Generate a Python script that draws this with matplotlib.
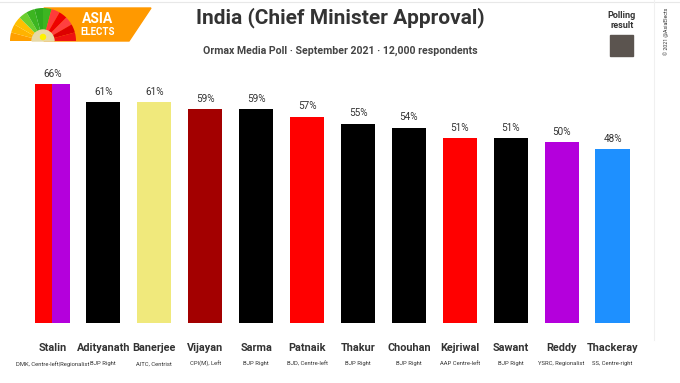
import matplotlib
matplotlib.use("Agg")
import matplotlib.pyplot as plt
from matplotlib.patches import Wedge, Polygon, Rectangle, Circle
from matplotlib.lines import Line2D
import numpy as np

# data
names = ["Stalin", "Adityanath", "Banerjee", "Vijayan", "Sarma", "Patnaik",
         "Thakur", "Chouhan", "Kejriwal", "Sawant", "Reddy", "Thackeray"]
parties = ["DMK, Centre-left|Regionalist", "BJP Right", "AITC, Centrist",
           "CPI(M), Left", "BJP Right", "BJD, Centre-left", "BJP Right",
           "BJP Right", "AAP Centre-left", "BJP Right", "YSRC, Regionalist",
           "SS, Centre-right"]
approval = [66, 61, 61, 59, 59, 57, 55, 54, 51, 51, 50, 48]
colors = ["#ff0000", "#000000", "#f0e97c", "#a30000", "#000000", "#ff0000",
          "#000000", "#000000", "#ff0000", "#000000", "#b400dc", "#1e90ff"]
stalin_colors = ["#ff0000", "#b400dc"]

plt.rcParams['font.family'] = ['Roboto', 'DejaVu Sans']

fig = plt.figure(figsize=(6.8, 3.83), dpi=100)
W, H = 680, 383

# faint frame lines
fig.add_artist(Line2D([0, 1], [1 - 1.5 / H, 1 - 1.5 / H], color="#e8e8e8",
                      lw=0.8, transform=fig.transFigure))
fig.add_artist(Line2D([654 / W, 654 / W], [1 - 340 / H, 1], color="#f0f0f0",
                      lw=0.8, transform=fig.transFigure))

# main axes: x -0.5..11.5 -> px 27..638 ; y 0 at px 323
ax = fig.add_axes([27 / W, (H - 323) / H, (638 - 27) / W, (323 - 60) / H])
ax.set_xlim(-0.5, 11.5)
ax.set_ylim(0, (323 - 60) / 3.62)
ax.axis("off")

bw = 0.67
for i, (v, c) in enumerate(zip(approval, colors)):
    if i == 0:
        ax.bar(i - bw / 4, v, width=bw / 2, color=stalin_colors[0])
        ax.bar(i + bw / 4, v, width=bw / 2, color=stalin_colors[1])
    else:
        ax.bar(i, v, width=bw, color=c)
    ax.text(i, v + 1.5, f"{v}%", ha="center", va="bottom", fontsize=7.2,
            color="#333333")

for i, (n, p) in enumerate(zip(names, parties)):
    ax.text(i, -6.8, n, ha="center", va="center", fontsize=7.8,
            fontweight="bold", color="#333333")
    ax.text(i, -11.3, p, ha="center", va="center", fontsize=4.2,
            color="#333333")

# titles
fig.text(340 / W, 1 - 18 / H, "India (Chief Minister Approval)", ha="center",
         va="center", fontsize=15, fontweight="bold", color="#333333")
fig.text(340 / W, 1 - 51 / H,
         "Ormax Media Poll · September 2021 · 12,000 respondents",
         ha="center", va="center", fontsize=7.6, fontweight="bold",
         color="#444444")

# legend
fig.text(622 / W, 1 - 15 / H, "Polling", ha="center", va="center",
         fontsize=6.5, fontweight="bold", color="#333333")
fig.text(622 / W, 1 - 26 / H, "result", ha="center", va="center",
         fontsize=6.5, fontweight="bold", color="#333333")
fig.patches.append(Rectangle((610 / W, 1 - 56 / H), 23 / W, 21 / H,
                             transform=fig.transFigure, color="#5b544f"))
fig.text(666 / W, 1 - 31 / H, "© 2021 @AsiaElects", rotation=90, ha="center",
         va="center", fontsize=3.8, color="#333333")

# logo
lax = fig.add_axes([0, 1 - 45 / H, 160 / W, 45 / H])
lax.set_xlim(0, 160)
lax.set_ylim(45, 0)
lax.axis("off")
lax.add_patch(Polygon([[44, 8], [151, 8], [129, 41], [44, 41]],
                      closed=True, color="#ff9900"))
cx, cy, r = 43, 41, 33
wcols = ["#ff9f00", "#ffb300", "#ffc000", "#6ccf2e", "#3cb521", "#2faa1d",
         "#3cb521", "#ff3b3b", "#ee0000", "#ff4040", "#dd0000", "#ee1111"]
n = len(wcols)
for k, c in enumerate(wcols):
    a1 = 180 + k * 180 / n
    a2 = 180 + (k + 1) * 180 / n
    lax.add_patch(Wedge((cx, cy), r, a1, a2, color=c, ec="none"))
lax.add_patch(Wedge((cx, cy), 11, 180, 360, color="#e8d9a6"))
lax.add_patch(Circle((cx, cy - 4), 2.5, color="#fff200"))
lax.text(98, 19, "ASIA", ha="center", va="center", fontsize=10,
         fontweight="bold", color="white")
lax.text(98, 32, "ELECTS", ha="center", va="center", fontsize=7,
         fontweight="bold", color="white")

fig.savefig("out.png", dpi=100)
